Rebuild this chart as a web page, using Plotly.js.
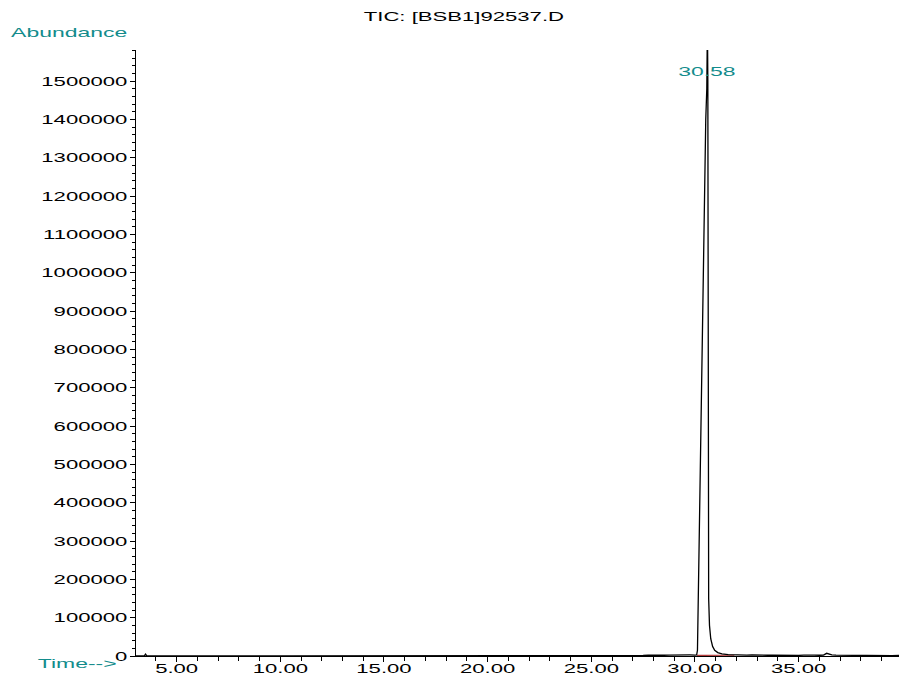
<!DOCTYPE html>
<html>
<head>
<meta charset="utf-8">
<script src="https://cdn.plot.ly/plotly-3.0.1.min.js"></script>
<style>
  html, body { margin: 0; padding: 0; background: #ffffff; }
  #chart { width: 899px; height: 676px; }
</style>
</head>
<body>
<div id="chart"></div>
<script>
// Retention time (min) of the TIC trace
const timeMin = [
  3.04, 3.30, 3.45, 3.50, 3.55, 3.70, 4.00, 6.00, 10.00, 15.00, 20.00, 24.00, 25.50,
  26.00, 26.25, 26.50, 26.75, 27.00, 27.25, 27.50, 27.75, 28.00, 28.25, 28.50, 28.75,
  29.00, 29.25, 29.50, 29.75, 30.00, 30.08,
  30.12, 30.16, 30.22, 30.30, 30.38, 30.46, 30.52, 30.57, 30.60, 30.62, 30.64, 30.66,
  30.70, 30.76, 30.85, 30.95, 31.10, 31.30, 31.60, 32.00,
  32.25, 32.50, 32.75, 33.00, 33.25, 33.50, 33.75, 34.00, 34.25, 34.50, 34.75, 35.00,
  35.25, 35.50, 35.65, 35.75, 36.00, 36.20, 36.35, 36.45, 36.60, 36.80, 37.00, 37.25,
  37.50, 37.75, 38.00, 38.25, 38.50, 38.75, 39.00, 39.25, 39.50, 39.84
];
// Abundance (counts) of the TIC trace
const abundance = [
  0, 300, 800, 5000, 900, 400, 300, 200, 200, 200, 300, 400, 600,
  800, 1500, 1100, 1800, 1300, 2000, 1500, 2200, 1700, 2300, 1900, 2500,
  2100, 2600, 2200, 2700, 2500, 3000,
  15000, 150000, 400000, 700000, 960000, 1250000, 1400000, 1480000, 1650000, 1500000, 500000, 150000,
  80000, 45000, 25000, 15000, 9000, 5500, 3500, 2500,
  2800, 2200, 2600, 2000, 2400, 1900, 2300, 1800, 2200, 1700, 2000, 1600,
  2100, 2400, 4000, 2200, 1900, 2500, 7000, 5500, 3000, 2200, 1800, 2000,
  1600, 1900, 1500, 1800, 1400, 1700, 1300, 1600, 1200, 1400
];
// Integration baseline of the 30.58 peak
const baseTime = [30.10, 31.90];
const baseAbundance = [1500, 2000];

const peakLabel = "30.58";
const peakTime = 30.58;
const chartTitle = "TIC: [BSB1]92537.D";
const yLabel = "Abundance";
const xLabel = "Time-->";

const teal = "#138c8c";
const FONT = "Liberation Sans, Arial, sans-serif";

const traces = [
  {
    x: baseTime, y: baseAbundance, type: "scatter", mode: "lines",
    line: { color: "#b23a3a", width: 1.2 }, hoverinfo: "skip"
  },
  {
    x: timeMin, y: abundance, type: "scatter", mode: "lines",
    line: { color: "#000000", width: 1.3 }, hoverinfo: "skip"
  }
];

const layout = {
  width: 899, height: 676,
  margin: { l: 136, r: 0, t: 50, b: 20, pad: 0 },
  paper_bgcolor: "#ffffff", plot_bgcolor: "#ffffff",
  showlegend: false,
  font: { family: FONT, size: 13, color: "#000000" },
  title: {
    text: chartTitle, x: 0.516, xanchor: "center", y: 0.975, yanchor: "middle",
    font: { family: FONT, size: 13, color: "#000000" }
  },
  xaxis: {
    range: [3.04, 39.84], tick0: 5, dtick: 5, tickformat: ".2f",
    showgrid: false, zeroline: false, showline: true, linecolor: "#000000", linewidth: 1,
    ticks: "outside", ticklen: 5, tickwidth: 1, tickcolor: "#000000",
    minor: { dtick: 1, tick0: 0, ticks: "outside", ticklen: 4, tickwidth: 1, tickcolor: "#000000", showgrid: false },
    tickfont: { family: FONT, size: 13, color: "#000000" },
    fixedrange: true
  },
  yaxis: {
    range: [0, 1581000], tick0: 0, dtick: 100000, tickformat: "d",
    showgrid: false, zeroline: false, showline: true, linecolor: "#000000", linewidth: 1,
    ticks: "outside", ticklen: 5, tickwidth: 1, tickcolor: "#000000",
    minor: { dtick: 20000, tick0: 0, ticks: "outside", ticklen: 3, tickwidth: 1, tickcolor: "#000000", showgrid: false },
    tickfont: { family: FONT, size: 13, color: "#000000" },
    fixedrange: true
  },
  annotations: [
    {
      text: yLabel, xref: "paper", yref: "paper", x: -0.0878, y: 1.0297,
      xanchor: "center", yanchor: "middle", showarrow: false,
      font: { family: FONT, size: 13.5, color: teal }
    },
    {
      text: xLabel, xref: "paper", yref: "paper", x: -0.0773, y: -0.0116,
      xanchor: "center", yanchor: "middle", showarrow: false,
      font: { family: FONT, size: 13.5, color: teal }
    },
    {
      text: peakLabel, xref: "x", yref: "paper", x: peakTime, y: 0.9653,
      xanchor: "center", yanchor: "middle", showarrow: false,
      font: { family: FONT, size: 13.5, color: teal }
    }
  ]
};

function stretchText(gd) {
  gd.querySelectorAll("svg text").forEach(function (t) {
    if (!t.textContent.trim()) return;
    const L = t.getComputedTextLength();
    if (!L) return;
    t.setAttribute("textLength", (L * 1.7).toFixed(1));
    t.setAttribute("lengthAdjust", "spacingAndGlyphs");
  });
  // lift the time tick labels so they sit just under the ticks, as in the reference
  gd.querySelectorAll("g.xtick text").forEach(function (t) {
    const b = t.getBBox();
    const centre = b.y + b.height / 2;
    const want = 668 - 50; // centre in plot-group coordinates is handled below
    const rect = t.getBoundingClientRect();
    const shift = 668 - (rect.top + rect.height / 2);
    const y0 = parseFloat(t.getAttribute("y") || "0");
    t.setAttribute("y", (y0 + shift).toFixed(1));
  });
}

Plotly.newPlot("chart", traces, layout, { displayModeBar: false, staticPlot: true })
  .then(function (gd) { stretchText(gd); });
</script>
</body>
</html>
